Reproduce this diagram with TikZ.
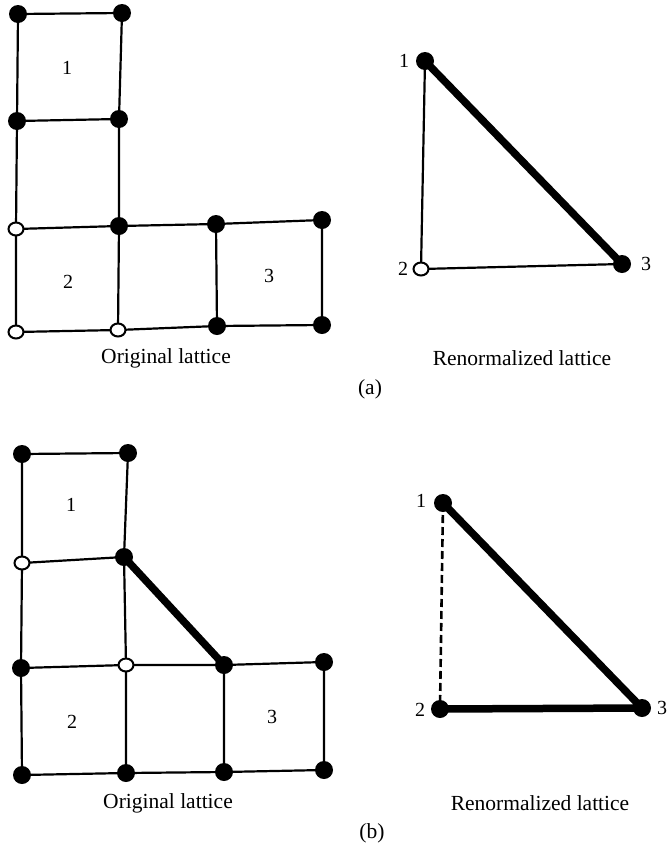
\documentclass[tikz,border=0pt]{standalone}
\usepackage{fontspec}
\setmainfont{Liberation Serif}
\usetikzlibrary{shapes.geometric,backgrounds}
\begin{document}
\begin{tikzpicture}[x=1pt,y=-1pt,
  fdot/.style={circle,fill=black,inner sep=0pt,minimum size=18pt},
  odot/.style={ellipse,draw=black,fill=white,line width=2pt,inner sep=0pt,minimum width=15pt,minimum height=13pt},
  ln/.style={line width=2.2pt},
  thk/.style={line width=7.5pt},
  dsh/.style={line width=2.6pt,dash pattern=on 8pt off 4pt},
  num/.style={font=\fontsize{20}{22}\selectfont},
  captxt/.style={font=\fontsize{21.5}{24}\selectfont}]
\useasboundingbox (0,0) rectangle (668,844);

% ---------- (a) original lattice ----------
\node[fdot] (a11) at (18,14) {};
\node[fdot] (a12) at (122,13) {};
\node[fdot] (a21) at (17,121) {};
\node[fdot] (a22) at (119,119) {};
\node[odot] (a31) at (16,229) {};
\node[fdot] (a32) at (119,226) {};
\node[fdot] (a33) at (216,224) {};
\node[fdot] (a34) at (322,220) {};
\node[odot] (a41) at (16,332) {};
\node[odot] (a42) at (118,330) {};
\node[fdot] (a43) at (217,326) {};
\node[fdot] (a44) at (322,325) {};
\begin{scope}[on background layer]
\draw[ln] (a11.center) -- (a12.center) (a21.center) -- (a22.center)
  (a11.center) -- (a21.center) -- (a31.center) -- (a41.center)
  (a12.center) -- (a22.center) -- (a32.center) -- (a42.center)
  (a31.center) -- (a32.center) -- (a33.center) -- (a34.center)
  (a41.center) -- (a42.center) -- (a43.center) -- (a44.center)
  (a33.center) -- (a43.center) (a34.center) -- (a44.center);
\end{scope}
\node[num] (la1) at (67,68) {1};
\node[num] (la2) at (68,282) {2};
\node[num] (la3) at (269,276) {3};
\node[captxt] (ta1) at (166,358) {Original lattice};

% ---------- (a) renormalized ----------
\node[fdot] (r1) at (425,61) {};
\node[odot] (r2) at (421,269) {};
\node[fdot] (r3) at (622,264) {};
\begin{scope}[on background layer]
\draw[ln] (r1.center) -- (r2.center) -- (r3.center);
\draw[thk] (r1.center) -- (r3.center);
\end{scope}
\node[num] (lr1) at (404,61) {1};
\node[num] (lr2) at (403,269) {2};
\node[num] (lr3) at (646,264) {3};
\node[captxt] (ta2) at (522,358) {Renormalized lattice};
\node[captxt] (pa) at (370,389) {(a)};

% ---------- (b) original lattice ----------
\node[fdot] (b11) at (22,454) {};
\node[fdot] (b12) at (128,453) {};
\node[odot] (b21) at (22,563) {};
\node[fdot] (b22) at (124,557) {};
\node[fdot] (b31) at (21,668) {};
\node[odot] (b32) at (126,665) {};
\node[fdot] (b33) at (224,665) {};
\node[fdot] (b34) at (324,662) {};
\node[fdot] (b41) at (22,775) {};
\node[fdot] (b42) at (126,773) {};
\node[fdot] (b43) at (224,772) {};
\node[fdot] (b44) at (324,770) {};
\begin{scope}[on background layer]
\draw[ln] (b11.center) -- (b12.center) (b21.center) -- (b22.center)
  (b11.center) -- (b21.center) -- (b31.center) -- (b41.center)
  (b12.center) -- (b22.center) -- (b32.center) -- (b42.center)
  (b31.center) -- (b32.center) -- (b33.center) -- (b34.center)
  (b41.center) -- (b42.center) -- (b43.center) -- (b44.center)
  (b33.center) -- (b43.center) (b34.center) -- (b44.center);
\draw[thk] (b22.center) -- (b33.center);
\end{scope}
\node[num] (lb1) at (71,505) {1};
\node[num] (lb2) at (72,722) {2};
\node[num] (lb3) at (272,717) {3};
\node[captxt] (tb1) at (168,803) {Original lattice};

% ---------- (b) renormalized ----------
\node[fdot] (s1) at (443,503) {};
\node[fdot] (s2) at (440,709) {};
\node[fdot] (s3) at (642,708) {};
\begin{scope}[on background layer]
\draw[dsh] (s1.center) -- (s2.center);
\draw[thk] (s1.center) -- (s3.center) (s2.center) -- (s3.center);
\end{scope}
\node[num] (ls1) at (421,501) {1};
\node[num] (ls2) at (420,710) {2};
\node[num] (ls3) at (662,708) {3};
\node[captxt] (tb2) at (540,803) {Renormalized lattice};
\node[captxt] (pb) at (372,833) {(b)};
\end{tikzpicture}
\end{document}
